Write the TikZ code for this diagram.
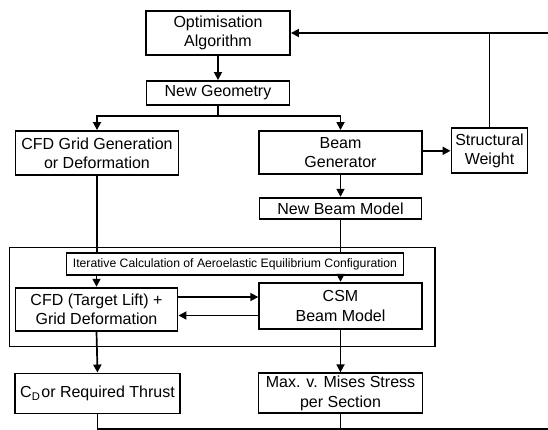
\documentclass[tikz,border=0pt]{standalone}
\usepackage{fontspec}
\setmainfont{Liberation Sans}
\usetikzlibrary{arrows.meta}
\begin{document}
\begin{tikzpicture}[x=1pt,y=-1pt,
  box/.style={draw,line width=1.9pt,inner sep=0pt,align=center,font=\fontsize{16}{19.3}\selectfont},
  ln/.style={line width=1.7pt},
  arr/.style={line width=1.7pt,-{Triangle[length=8pt,width=8pt]}}]
\useasboundingbox (0,0) rectangle (548,430);
\node[box,minimum width=144pt,minimum height=44pt] (opt) at (218,33) {Optimisation\\Algorithm};
\node[box,minimum width=143pt,minimum height=24pt] (newgeo) at (218,93) {New Geometry};
\node[box,minimum width=163pt,minimum height=44pt] (cfdgrid) at (97,153) {CFD Grid Generation\\or Deformation};
\node[box,minimum width=163pt,minimum height=43pt] (beamgen) at (340.5,152.5) {Beam\\Generator};
\node[box,minimum width=76pt,minimum height=45pt] (sw) at (489.5,150.8) {Structural\\Weight};
\node[box,minimum width=162pt,minimum height=21.5pt] (nbm) at (340.5,208.5) {New Beam Model};
\node[draw,line width=1.5pt,inner sep=0pt,minimum width=425.5pt,minimum height=99pt] (outer) at (222.25,297) {};
\node[box,font=\fontsize{12.2}{14}\selectfont,minimum width=337pt,minimum height=22.5pt] (iter) at (235,264) {Iterative Calculation of Aeroelastic Equilibrium Configuration};
\node[box,minimum width=162pt,minimum height=43pt] (cfdt) at (96.5,309.2) {CFD (Target Lift) +\\Grid Deformation};
\node[box,minimum width=162.5pt,minimum height=46.5pt] (csm) at (340.5,306) {CSM\\Beam Model};
\node[box,minimum width=165pt,minimum height=40pt] (cd) at (97.5,393.5) {C\textsubscript{D}\hspace{1pt}or Required Thrust};
\node[box,minimum width=164pt,minimum height=40pt] (mises) at (340.5,393.3) {Max. v. Mises Stress\\per Section};
\coordinate (br) at (218,116);
\coordinate (ya) at (0,297);
\coordinate (yb) at (0,315.5);
\coordinate (corner) at (549.5,429.3);
\draw[arr] (opt.south) -- (newgeo.north);
\draw[ln] (newgeo.south) -- (br);
\draw[arr] (br) -| (cfdgrid.north);
\draw[arr] (br) -| (beamgen.north);
\draw[ln] (cfdgrid.south) -- (cfdgrid.south |- iter.north);
\draw[arr] (beamgen.south) -- (nbm.north);
\draw[arr] (beamgen.east |- sw.west) -- (sw.west);
\draw[ln] (nbm.south) -- (nbm.south |- iter.north);
\draw[arr] (iter.south -| cfdt.north) -- (cfdt.north);
\draw[arr] (iter.south -| csm.north) -- (csm.north);
\draw[arr] (cfdt.east |- ya) -- (csm.west |- ya);
\draw[arr] (csm.west |- yb) -- (cfdt.east |- yb);
\draw[arr] (cfdt.south) -- (cd.north);
\draw[arr] (csm.south) -- (mises.north);
\draw[arr] (cd.south) -- (cd.south |- corner) -- (corner) |- (opt.east);
\draw[ln] (mises.south) -- (mises.south |- corner);
\draw[ln] (sw.north) -- (sw.north |- opt.east);
\end{tikzpicture}
\end{document}
